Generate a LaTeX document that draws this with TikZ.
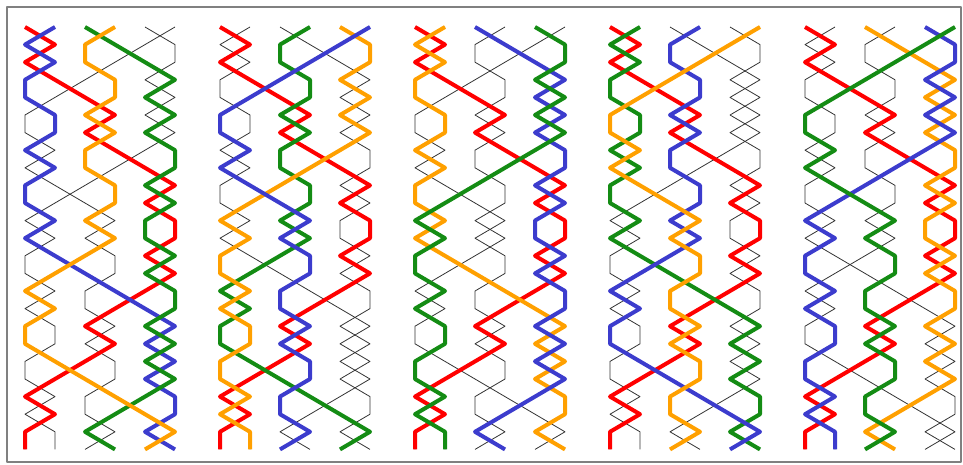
\documentclass[tikz,border=0pt]{standalone}
\definecolor{wred}{RGB}{255,0,0}
\definecolor{wblue}{RGB}{60,60,205}
\definecolor{wgreen}{RGB}{20,140,20}
\definecolor{worange}{RGB}{255,160,0}
\def\routes{%
1/{2,1,2,3,4,3,4,5,6,5,6,6,5,6,5,4,3,4,3,2,1,2,1,1}/wred/wred/wred/wred/wred,
2/{1,2,1,1,2,2,1,2,1,1,2,1,2,3,4,5,6,5,6,5,6,6,5,6}/wblue/none/worange/wgreen/none,
3/{4,5,6,5,6,5,6,6,5,6,5,5,6,5,6,6,5,6,5,6,5,4,3,4}/wgreen/none/wblue/none/worange,
4/{3,3,4,4,3,4,3,3,4,4,3,4,3,2,1,2,1,1,2,3,4,5,6,5}/worange/wgreen/none/wblue/none,
5/{6,6,5,6,5,6,5,4,3,2,1,2,1,1,2,1,2,2,1,1,2,1,2,2}/none/worange/wgreen/none/wblue,
6/{5,4,3,2,1,1,2,1,2,3,4,3,4,4,3,3,4,3,4,4,3,3,4,3}/none/wblue/none/worange/wgreen}
\begin{document}
\begin{tikzpicture}[x=1pt, y=-1pt, line join=round,
	thinw/.style={black!80, line width=0.8pt},
	thickw/.style={draw=#1, line width=4pt}]
	\useasboundingbox (0,0) rectangle (963,464);
	\draw[gray, line width=1.5pt] (7,7) rectangle (961,462);
	\foreach \s/\rt/\cA/\cB/\cC/\cD/\cE in \routes
	\foreach \ox in {25,220,415,610,805}
	\draw[thinw] ({\ox+30*\s-30},27) \foreach \p [count=\k] in \rt {-- ({\ox+30*\p-30},{27+17.6*\k})};
	\foreach \s/\rt/\cA/\cB/\cC/\cD/\cE in \routes
	\foreach \ox/\cl in {25/\cA,220/\cB,415/\cC,610/\cD,805/\cE}
	\draw[thickw=\cl] ({\ox+30*\s-30},27) \foreach \p [count=\k] in \rt {-- ({\ox+30*\p-30},{27+17.6*\k})};
\end{tikzpicture}
\end{document}
